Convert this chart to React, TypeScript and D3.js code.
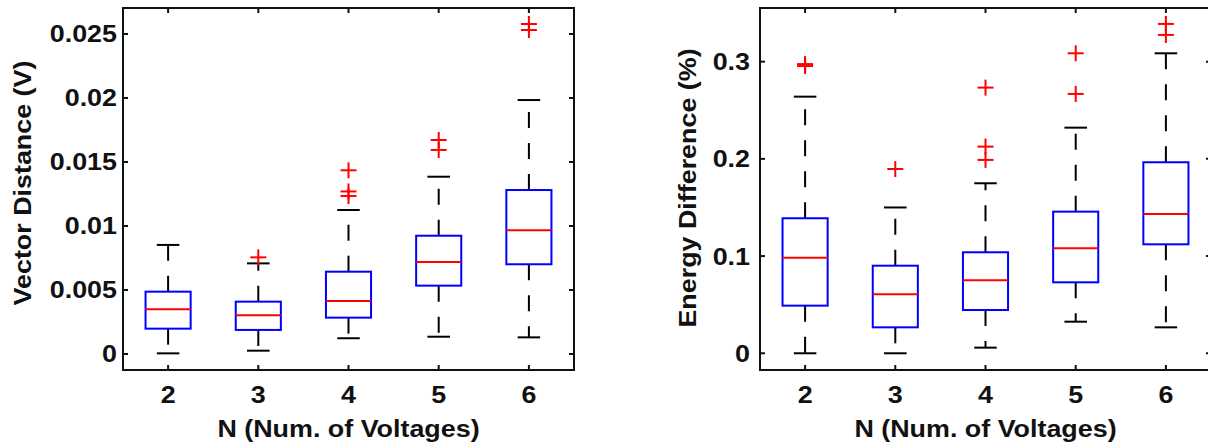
import React from "react";
import * as d3 from "d3";

const categories = [2, 3, 4, 5, 6];

const leftQ1 = [0.00198, 0.00188, 0.00284, 0.00534, 0.00701];
const leftMedian = [0.00349, 0.00302, 0.00414, 0.00719, 0.00966];
const leftQ3 = [0.00487, 0.00409, 0.00643, 0.00924, 0.01281];
const leftLowerWhisker = [0.00005, 0.00026, 0.00123, 0.00135, 0.0013];
const leftUpperWhisker = [0.00852, 0.00708, 0.01125, 0.01385, 0.01984];
const leftOutliers = [[], [0.00755], [0.01435, 0.0127, 0.01234], [0.01672, 0.01594], [0.02578, 0.02531]];
const leftYTicks = [0, 0.005, 0.01, 0.015, 0.02, 0.025];
const leftYTickLabels = ["0", "0.005", "0.01", "0.015", "0.02", "0.025"];

const rightQ1 = [0.049, 0.0267, 0.0445, 0.073, 0.1121];
const rightMedian = [0.0984, 0.0607, 0.0751, 0.108, 0.1433];
const rightQ3 = [0.1389, 0.0901, 0.1039, 0.1457, 0.1965];
const rightLowerWhisker = [0, 0, 0.0058, 0.0325, 0.0267];
const rightUpperWhisker = [0.264, 0.15, 0.1749, 0.2321, 0.3086];
const rightOutliers = [[0.2955, 0.2975], [0.1896], [0.2733, 0.2126, 0.1989], [0.3086, 0.2668], [0.3388, 0.3275]];
const rightYTicks = [0, 0.1, 0.2, 0.3];
const rightYTickLabels = ["0", "0.1", "0.2", "0.3"];

const xLabel = "N (Num. of Voltages)";
const leftYLabel = "Vector Distance (V)";
const rightYLabel = "Energy Difference (%)";

const FONT = "'Liberation Sans', Arial, Helvetica, sans-serif";
const FS = 24;
const SX = 1.12;
const INK = "#111";

type PanelProps = {
  x0: number; x1: number; y0: number; y1: number;
  yDomain: [number, number];
  q1: number[]; med: number[]; q3: number[]; lw: number[]; uw: number[]; out: number[][];
  yTicks: number[]; yTickLabels: string[];
  yLabel: string; yLabelX: number; yLabelY: number; tickLabelGap: number;
};

function Panel(p: PanelProps) {
  const x = d3.scaleLinear().domain([1.5, 6.5]).range([p.x0, p.x1]);
  const y = d3.scaleLinear().domain(p.yDomain).range([p.y1, p.y0]);
  const bw = x(0.25) - x(0);
  const cw = x(0.125) - x(0);
  const tl = 5;
  const dash = "16,15";
  const ps = 8;
  return (
    <g>
      {categories.map((c, i) => {
        const cx = x(c);
        return (
          <g key={c}>
            <line x1={cx} x2={cx} y1={y(p.q3[i])} y2={y(p.uw[i])} stroke="#000" strokeWidth={2} strokeDasharray={dash} />
            <line x1={cx} x2={cx} y1={y(p.q1[i])} y2={y(p.lw[i])} stroke="#000" strokeWidth={2} strokeDasharray={dash} />
            <line x1={cx - cw} x2={cx + cw} y1={y(p.uw[i])} y2={y(p.uw[i])} stroke="#000" strokeWidth={2} />
            <line x1={cx - cw} x2={cx + cw} y1={y(p.lw[i])} y2={y(p.lw[i])} stroke="#000" strokeWidth={2} />
            <rect x={cx - bw} y={y(p.q3[i])} width={2 * bw} height={y(p.q1[i]) - y(p.q3[i])} fill="none" stroke="#0000ff" strokeWidth={2} />
            <line x1={cx - bw} x2={cx + bw} y1={y(p.med[i])} y2={y(p.med[i])} stroke="#ff0000" strokeWidth={2} />
            {p.out[i].map((v, j) => (
              <g key={j}>
                <line x1={cx - ps} x2={cx + ps} y1={y(v)} y2={y(v)} stroke="#ff0000" strokeWidth={2} />
                <line x1={cx} x2={cx} y1={y(v) - ps} y2={y(v) + ps} stroke="#ff0000" strokeWidth={2} />
              </g>
            ))}
          </g>
        );
      })}
      {/* axes box */}
      <rect x={p.x0} y={p.y0} width={p.x1 - p.x0} height={p.y1 - p.y0} fill="none" stroke={INK} strokeWidth={2} />
      {categories.map((c) => (
        <g key={"xt" + c}>
          <line x1={x(c)} x2={x(c)} y1={p.y1} y2={p.y1 - tl} stroke={INK} strokeWidth={2} />
          <line x1={x(c)} x2={x(c)} y1={p.y0} y2={p.y0 + tl} stroke={INK} strokeWidth={2} />
          <text transform={`translate(${x(c)},403) scale(${SX},1)`} textAnchor="middle" fontFamily={FONT} fontWeight="bold" fontSize={FS} fill={INK}>{c}</text>
        </g>
      ))}
      {p.yTicks.map((t, i) => (
        <g key={"yt" + i}>
          <line x1={p.x0} x2={p.x0 + tl} y1={y(t)} y2={y(t)} stroke={INK} strokeWidth={2} />
          <line x1={p.x1} x2={p.x1 - tl} y1={y(t)} y2={y(t)} stroke={INK} strokeWidth={2} />
          <text transform={`translate(${p.x0 - p.tickLabelGap},${y(t) + 8.5}) scale(${SX},1)`} textAnchor="end" fontFamily={FONT} fontWeight="bold" fontSize={FS} fill={INK}>{p.yTickLabels[i]}</text>
        </g>
      ))}
      <text transform={`translate(${(p.x0 + p.x1) / 2},437) scale(${SX},1)`} textAnchor="middle" fontFamily={FONT} fontWeight="bold" fontSize={FS} fill={INK}>{xLabel}</text>
      <text transform={`translate(${p.yLabelX},${p.yLabelY}) rotate(-90) scale(${SX},1)`} textAnchor="middle" fontFamily={FONT} fontWeight="bold" fontSize={FS} fill={INK}>{p.yLabel}</text>
    </g>
  );
}

export default function App() {
  return (
    <svg width={1208} height={442} style={{ position: "fixed", left: 0, top: 0, background: "#fff" }}>
      <rect width={1208} height={442} fill="#fff" />
      <Panel x0={123} x1={574} y0={8} y1={370} yDomain={[-0.00125, 0.02703]}
        q1={leftQ1} med={leftMedian} q3={leftQ3} lw={leftLowerWhisker} uw={leftUpperWhisker} out={leftOutliers}
        yTicks={leftYTicks} yTickLabels={leftYTickLabels} yLabel={leftYLabel} yLabelX={31} yLabelY={183} tickLabelGap={6} />
      <Panel x0={760} x1={1211} y0={8} y1={370} yDomain={[-0.0172, 0.3552]}
        q1={rightQ1} med={rightMedian} q3={rightQ3} lw={rightLowerWhisker} uw={rightUpperWhisker} out={rightOutliers}
        yTicks={rightYTicks} yTickLabels={rightYTickLabels} yLabel={rightYLabel} yLabelX={696} yLabelY={188} tickLabelGap={10} />
    </svg>
  );
}
